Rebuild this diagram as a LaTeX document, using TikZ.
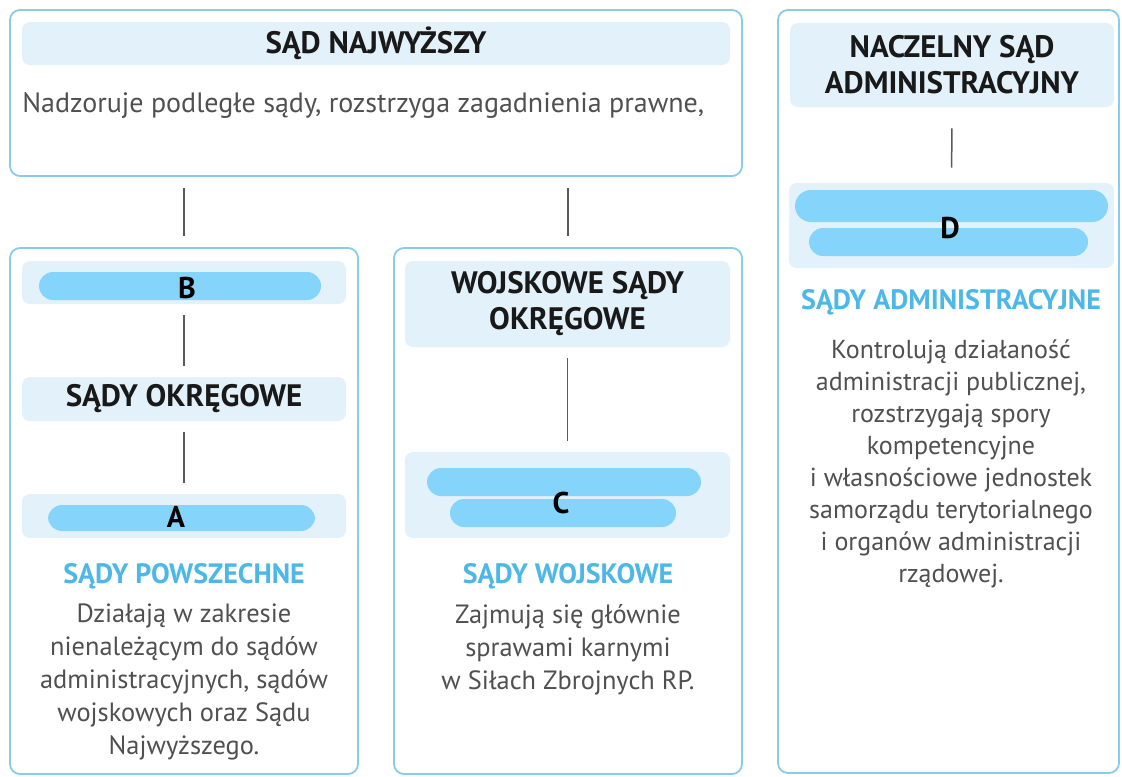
\documentclass[tikz,border=0pt]{standalone}
\usepackage{fontspec}
\setmainfont{PT Sans}
\usepackage{tikz}
\usetikzlibrary{positioning,calc}
\definecolor{frameblue}{HTML}{86CDEB}
\definecolor{bandfill}{HTML}{E3F1FA}
\definecolor{pillblue}{HTML}{84D4FC}
\definecolor{headblue}{HTML}{4DB8E8}
\definecolor{bodygray}{HTML}{505050}
\definecolor{linkgray}{HTML}{5A5A5A}
\tikzset{
	outer/.style={draw=frameblue, line width=0.9pt, fill=white, rounded corners=5pt, inner sep=0pt}
}
\tikzstyle{band}=[fill=bandfill, rounded corners=4pt, inner sep=0pt, align=center, text=black!90, font=\fontsize{15.5}{18}\selectfont\bfseries]
\tikzstyle{pillbar}=[fill=pillblue, inner sep=0pt, rounded corners=7pt]
\tikzstyle{letter}=[inner sep=0pt, text=black, font=\fontsize{15}{15}\selectfont\bfseries]
\tikzstyle{kind}=[inner sep=0pt, text=headblue, font=\fontsize{14}{14}\selectfont\bfseries]
\tikzstyle{desc}=[inner sep=0pt, align=center, text=bodygray, font=\fontsize{13.2}{16.5}\selectfont]
\tikzstyle{link}=[draw=linkgray, line width=0.75pt, shorten <=5.5pt, shorten >=5.5pt]

\begin{document}
\begin{tikzpicture}[x=1pt, y=-1pt]
	\useasboundingbox (0,0) rectangle (561,388);
	% outer frames
	\node[outer, minimum width=366pt, minimum height=83pt] (sn) at (188,46.5) {};
	\node[outer, minimum width=174pt, minimum height=263pt] (pow) at (92,255.5) {};
	\node[outer, minimum width=174pt, minimum height=263pt] (woj) at (284,255.5) {};
	\node[outer, minimum width=170.5pt, minimum height=381.5pt] (adm) at (474.25,195.75) {};
	% Sad Najwyzszy
	\node[band, minimum width=354pt, minimum height=21.5pt] (snHead) at (188,21.75) {SĄD NAJWYŻSZY};
	\node[desc, anchor=base west, font=\fontsize{14}{16.5}\selectfont] (snText) at (11,56) {Nadzoruje podległe sądy, rozstrzyga zagadnienia prawne,};
	% sady powszechne
	\node[band, minimum width=162pt, minimum height=21.5pt] (bandB) at (92,141.25) {};
	\node[pillbar, minimum width=141pt, minimum height=14pt] (pillB) at (90,143) {};
	\node[letter] (labB) at (93.5,144) {B};
	\node[band, minimum width=162pt, minimum height=22pt] (okr) at (92,199.5) {SĄDY OKRĘGOWE};
	\node[band, minimum width=162pt, minimum height=22pt] (bandA) at (92,258) {};
	\node[pillbar, minimum width=133.5pt, minimum height=13pt] (pillA) at (90.75,259) {};
	\node[letter] (labA) at (88,258.5) {A};
	\node[kind] (powName) at (92,288) {SĄDY POWSZECHNE};
	\node[desc] (powText) at (92,341) {Działają w zakresie\\nienależącym do sądów\\administracyjnych, sądów\\wojskowych oraz Sądu\\Najwyższego.};
	% sady wojskowe
	\node[band, minimum width=162.5pt, minimum height=43pt] (wso) at (283.75,152) {WOJSKOWE SĄDY\\OKRĘGOWE};
	\node[band, minimum width=162.5pt, minimum height=43pt] (bandC) at (283.75,247.5) {};
	\node[pillbar, minimum width=137pt, minimum height=14pt] (pillC1) at (282,241) {};
	\node[pillbar, minimum width=113pt, minimum height=14pt] (pillC2) at (281.5,256.5) {};
	\node[letter] (labC) at (280.5,251.5) {C};
	\node[kind] (wojName) at (284,288) {SĄDY WOJSKOWE};
	\node[desc] (wojText) at (284,325) {Zajmują się głównie\\sprawami karnymi\\w Siłach Zbrojnych RP.};
	% sady administracyjne
	\node[band, minimum width=162pt, minimum height=42pt] (nsa) at (476,32.5) {NACZELNY SĄD\\ADMINISTRACYJNY};
	\node[band, minimum width=162.5pt, minimum height=42.5pt] (bandD) at (475.75,112.75) {};
	\node[pillbar, minimum width=156.5pt, minimum height=16pt, rounded corners=8pt] (pillD1) at (475.75,103) {};
	\node[pillbar, minimum width=139.5pt, minimum height=14pt] (pillD2) at (474.25,121) {};
	\node[letter] (labD) at (475,114) {D};
	\node[kind] (admName) at (475.5,151) {SĄDY ADMINISTRACYJNE};
	\node[desc, font=\fontsize{13}{16}\selectfont] (admText) at (475.5,232) {Kontrolują działaność\\administracji publicznej,\\rozstrzygają spory\\kompetencyjne\\i własnościowe jednostek\\samorządu terytorialnego\\i organów administracji\\rządowej.};
	% links
	\draw[link] (pow.north |- sn.south) -- (pow.north);
	\draw[link] (woj.north |- sn.south) -- (woj.north);
	\draw[link] (bandB) -- (okr);
	\draw[link] (okr) -- (bandA);
	\draw[link] (wso) -- (bandC);
	\draw[link, shorten <=10.5pt, shorten >=7.5pt] (nsa) -- (bandD);
\end{tikzpicture}
\end{document}
